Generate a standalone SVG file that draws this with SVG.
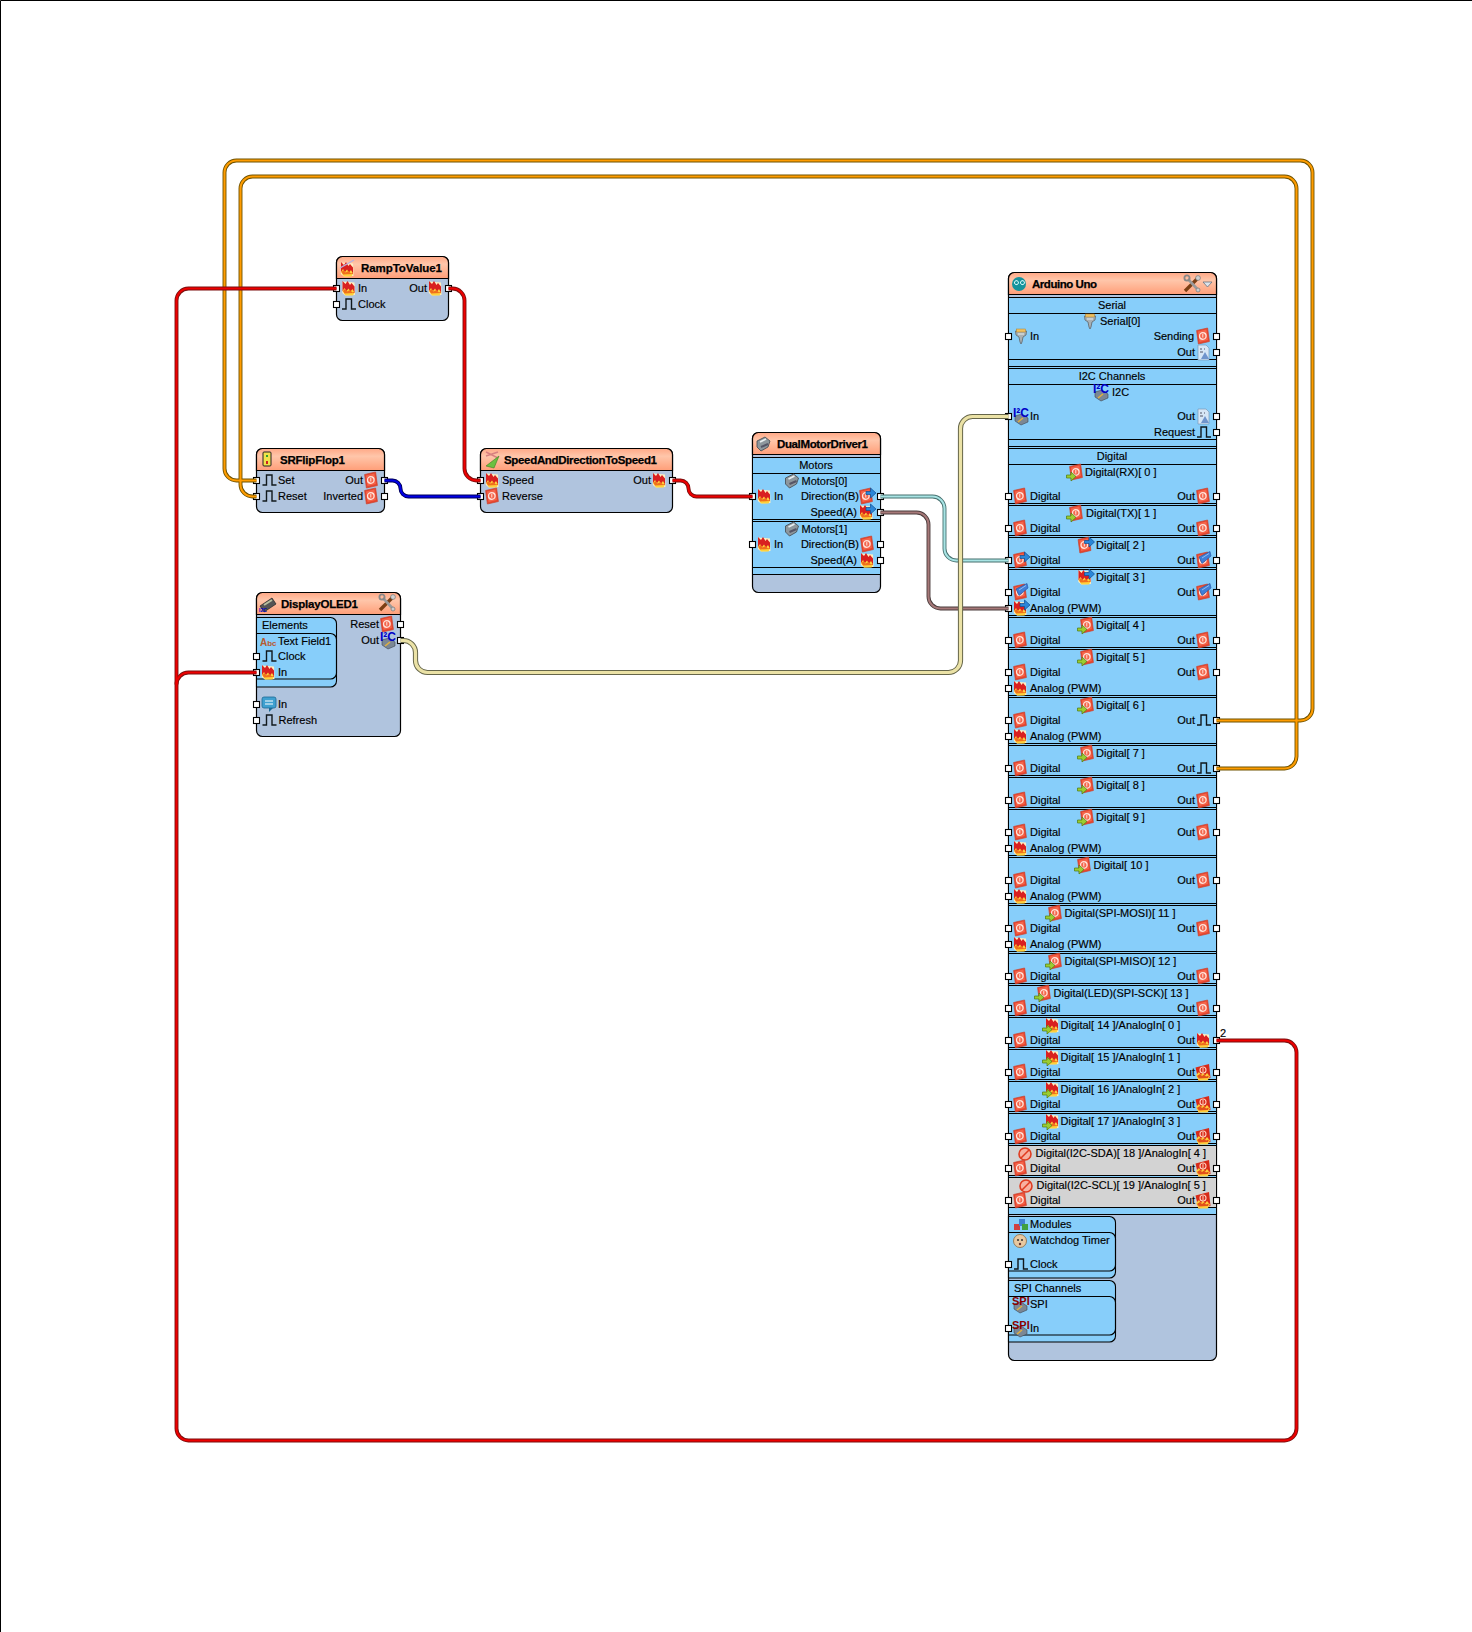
<svg xmlns="http://www.w3.org/2000/svg" width="1472" height="1632" viewBox="0 0 1472 1632">
<style>
text{font-family:"Liberation Sans",Arial,sans-serif;font-size:11px;fill:#000;stroke:#000;stroke-width:.16}
.h{font-weight:bold;font-size:11.5px;stroke-width:.25}
.c{text-anchor:middle}
.e{text-anchor:end}
.n{fill:#b0c4de;stroke:#000;stroke-width:1.2}
.b{fill:#87cefa;stroke:#000;stroke-width:1.1}
.g{fill:#d3d3d3}
.s{fill:#87cefa}
.l{fill:none;stroke:#000;stroke-width:1.1}
.hd{fill:url(#hg);stroke:#000;stroke-width:1.2}
.w{fill:none;stroke-linejoin:round}
.o1{stroke:#6e5200;stroke-width:3.9}.o2{stroke:#ff9c00;stroke-width:2.1}
.r1{stroke:#7c0f0f;stroke-width:3.9}.r2{stroke:#ee0000;stroke-width:2.1}
.u1{stroke:#00005a;stroke-width:3.9}.u2{stroke:#0000e6;stroke-width:2.1}
.t1{stroke:#47706f;stroke-width:3.9}.t2{stroke:#a8e4e4;stroke-width:2.1}
.m1{stroke:#4a3c3c;stroke-width:3.9}.m2{stroke:#a67878;stroke-width:2.1}
.y1{stroke:#66664a;stroke-width:5.2}.y2{stroke:#ebe2a6;stroke-width:3.2}
.ic{stroke:none;font-weight:bold}
</style>
<defs>
<linearGradient id="hg" x1="0" y1="0" x2="0" y2="1"><stop offset="0" stop-color="#ffa886"/><stop offset=".35" stop-color="#ffc6aa"/><stop offset="1" stop-color="#ff9e78"/></linearGradient>
<rect id="p" x="-3" y="-3" width="6" height="6" fill="#fff" stroke="#000" stroke-width="1.1"/>
<g id="d"><path d="M-6.4-5.5L4.6-8 6.4 5.5 -4.6 8Z" fill="#e8452e" stroke="#c9442f" stroke-width=".7"/><path d="M-5-4.6L3.4-6.4 4.8 4-3.4 6Z" fill="#f4664c"/><circle cx="-.2" cy="0" r="3.3" fill="none" stroke="#ffe4dc" stroke-width="1.3"/><path d="M-.2-2.2V1.5" stroke="#ffe4dc" stroke-width="1"/></g>
<g id="f"><path d="M-6-6.500L6-5.500 6.500 7-3 7.500-6.200 5Z" fill="#ffefc0"/><path d="M-6-1L-6-7-3-4-1-7 1.500-3 3-5 6-1.500 6 4.500-6 3Z" fill="#d92020"/><path d="M-6 3L-4 0-2 3 0 .5 2 3.500 4 1 6 4.500 4.500 7.500-3 7.500Z" fill="#ffd23c"/><path d="M-5.500 3L-3.500 1-1.500 3.500 1.500 2 4 4.500 6 3.500 6 5-4 5.500Z" fill="#f0701c"/></g>
<path id="k" d="M-7 5H-3V-5H2.500V5H7" fill="none" stroke="#10181c" stroke-width="1.4"/>
<path id="ag" d="M-5-2H-.5V-5L4.500-.5-.5 4V1H-5Z" fill="#9acd32" stroke="#4e7a10" stroke-width=".7"/>
<path id="ab" d="M-5-1.500H-.5V-5L5 0-.5 5V1.500H-5Z" fill="#2a86d8" stroke="#0f4c90" stroke-width=".7"/>
<g id="dg"><use href="#d"/><use href="#ag" x="-4.500" y="5"/></g>
<g id="fg"><use href="#f"/><use href="#ag" x="-4.500" y="5"/></g>
<g id="db"><use href="#d"/><use href="#ab" x="5" y="-3"/></g>
<g id="fb"><use href="#f"/><use href="#ab" x="5" y="-3"/></g>
<g id="dc"><use href="#d"/><path d="M-4-3L7-8.500 8-4-1 3.500Z" fill="#3f7fd8" stroke="#1d4fa0" stroke-width=".6"/><path d="M-1-2L6-6.500" stroke="#a8ccf5" stroke-width=".8"/></g>
<g id="df"><path d="M-7.500-4.500L6-8 7.500 6-4.500 8.500Z" fill="#d82a18"/><path d="M-7 3L-4 0-2 3 0 .5 2 3.500 4 1 7 4.500 4.500 8.500-4.500 8.500Z" fill="#ffcc3a"/><path d="M-6 4L-3 2-1 4 1 2.500 3 4.500 6 3.500 5 6-4 6.500Z" fill="#e2501a"/><circle cx="0" cy="-2" r="3" fill="none" stroke="#ffd0c0" stroke-width="1.1"/><path d="M0-4V0" stroke="#ffd0c0"/></g>
<g id="x"><path d="M-5-7H3L6-4V8H-5Z" fill="#d6e6f6" stroke="#7a9ab8" stroke-width=".7"/><path d="M-3-3H-1M1-3H2M-3 0H0" stroke="#445" stroke-width=".9"/><path d="M-2 7L2 0 6 7Z" fill="#6f94cc"/></g>
<g id="sr"><path d="M-5.500-5H5.500L5-1 2 1 1 6 0 8-1 6-2 1-5-1Z" fill="#a8b0b4" stroke="#5e6468" stroke-width=".8"/><rect x="-4.500" y="-7" width="9" height="3" fill="#f0c060" stroke="#a88030" stroke-width=".5"/><path d="M-3-2H3" stroke="#e8ecec"/></g>
<g id="i2"><path d="M-6 0L1-2 7 2 7 6 0 9-6 5Z" fill="#7b8794" stroke="#3c4650" stroke-width=".6"/><path d="M-3 6L2 2" stroke="#e0b040" stroke-width="1.6"/><text class="ic" x="-8" y="1" style="font-size:12px;fill:#0000c8">I²C</text></g>
<g id="sp"><path d="M-6 0L1-2 7 2 7 6 0 9-6 5Z" fill="#7b8794" stroke="#3c4650" stroke-width=".6"/><path d="M-3 6L2 2" stroke="#e0b040" stroke-width="1.6"/><text class="ic" x="-8" y="1" style="font-size:11px;fill:#8b0000">SPI</text></g>
<g id="nn"><circle r="6" fill="#f7b0a0" stroke="#e03c20" stroke-width="1.6"/><path d="M-4 4L4-4" stroke="#e03c20" stroke-width="1.6"/></g>
<g id="mt"><path d="M-6-3L2-7 7-3 5 3-2 7-6 3Z" fill="#8d979d" stroke="#40484e" stroke-width=".8"/><path d="M-3-2L3-5" stroke="#e8eef0" stroke-width="1.6"/><path d="M-2 3L5 0" stroke="#556" stroke-width="2"/></g>
<g id="tl"><path d="M-7 7L5-5" stroke="#7c3f14" stroke-width="3.4"/><path d="M7 7L-4-5" stroke="#9a9a9a" stroke-width="2.6"/><circle cx="-5" cy="-6" r="2.600" fill="none" stroke="#888" stroke-width="1.800"/><circle cx="6" cy="-6" r="2.400" fill="#d0d0d0" stroke="#777" stroke-width=".7"/><circle cx="6" cy="6" r="2" fill="#ccc" stroke="#777" stroke-width=".7"/></g>
</defs>
<rect width="1472" height="1632" fill="#fff"/>
<path d="M.5 1632V.5H1472" fill="none" stroke="#000"/>

<g id="RampToValue1">
<rect class="n" x="336.5" y="256.5" width="112" height="64" rx="6"/>
<path class="hd" d="M336.5 278.5V262.5a6 6 0 0 1 6-6H442.5a6 6 0 0 1 6 6V278.5Z"/>
<use href="#f" x="347" y="269"/><path d="M340 268L354 260" stroke="#b8b0e0" stroke-width="1.4"/>
<text class="h" x="361" y="272" textLength="81">RampToValue1</text>
<use href="#p" x="336.5" y="288.5"/><use href="#p" x="336.5" y="304.5"/><use href="#p" x="448.5" y="288.5"/>
<use href="#f" x="348.5" y="288"/><use href="#k" x="349" y="304"/><use href="#f" x="435" y="288"/>
<text x="358" y="292">In</text><text x="358" y="308">Clock</text><text class="e" x="427" y="292">Out</text>
</g>

<g id="SRFlipFlop1">
<rect class="n" x="256.5" y="448.5" width="128" height="64" rx="6"/>
<path class="hd" d="M256.5 470.5V454.5a6 6 0 0 1 6-6H378.5a6 6 0 0 1 6 6V470.5Z"/>
<rect x="263" y="452" width="8" height="14" rx="1" fill="#f2e24a" stroke="#222" stroke-width="1"/><rect x="266" y="461" width="2" height="3" fill="#d02020"/><rect x="266" y="455" width="2" height="2" fill="#30a030"/>
<text class="h" x="280" y="464" textLength="65">SRFlipFlop1</text>
<use href="#p" x="256.5" y="480.5"/><use href="#p" x="256.5" y="496.5"/><use href="#p" x="384.5" y="480.5"/><use href="#p" x="384.5" y="496.5"/>
<use href="#k" x="269.5" y="480"/><use href="#k" x="269.5" y="496"/><use href="#d" x="371" y="480"/><use href="#d" x="371" y="496"/>
<text x="278" y="484">Set</text><text x="278" y="500">Reset</text><text class="e" x="363" y="484">Out</text><text class="e" x="363" y="500">Inverted</text>
</g>

<g id="SpeedAndDirectionToSpeed1">
<rect class="n" x="480.5" y="448.5" width="192" height="64" rx="6"/>
<path class="hd" d="M480.5 470.5V454.5a6 6 0 0 1 6-6H666.5a6 6 0 0 1 6 6V470.5Z"/>
<path d="M486 456L498 452M486 452L498 458" stroke="#d88080" stroke-width="1.4"/><path d="M486 466L499 456 494 468Z" fill="#6cc040" stroke="#3c8020" stroke-width=".6"/>
<text class="h" x="504" y="464" textLength="153">SpeedAndDirectionToSpeed1</text>
<use href="#p" x="480.5" y="480.5"/><use href="#p" x="480.5" y="496.5"/><use href="#p" x="672.5" y="480.5"/>
<use href="#f" x="492" y="480"/><use href="#d" x="492" y="496"/><use href="#f" x="659" y="480"/>
<text x="502" y="484">Speed</text><text x="502" y="500">Reverse</text><text class="e" x="651" y="484">Out</text>
</g>

<g id="DisplayOLED1">
<rect class="n" x="256.5" y="592.5" width="144" height="144" rx="6"/>
<path class="hd" d="M256.5 614.5V598.5a6 6 0 0 1 6-6H394.5a6 6 0 0 1 6 6V614.5Z"/>
<path d="M260 606L272 598 276 604 264 612Z" fill="#555" stroke="#222" stroke-width=".7"/><path d="M264 605L272 600" stroke="#b8c0a0" stroke-width="2"/>
<text class="ic" x="259" y="612" style="font-size:5px;fill:#0000c8">I2C</text>
<text class="h" x="281" y="608" textLength="77">DisplayOLED1</text>
<use href="#tl" x="387" y="603"/>
<path class="b" d="M256.5 617.5H330.5a6 6 0 0 1 6 6V681a6 6 0 0 1-6 6H256.5Z"/>
<path class="l" d="M256.5 633.5H330.5a6 6 0 0 1 6 6V673a6 6 0 0 1-6 6H256.5"/>
<use href="#p" x="256.5" y="656.5"/><use href="#p" x="256.5" y="672.5"/><use href="#p" x="256.5" y="704.5"/><use href="#p" x="256.5" y="720.5"/><use href="#p" x="400.5" y="624.5"/><use href="#p" x="400.5" y="640.5"/>
<text x="262" y="629">Elements</text>
<text class="ic" x="260" y="646" style="font-size:10px;fill:#b85a30">A<tspan style="font-size:8px;fill:#b85a30">bc</tspan></text>
<text x="278" y="645">Text Field1</text>
<use href="#k" x="269.5" y="656"/><text x="278" y="660">Clock</text>
<use href="#f" x="268" y="672"/><text x="278" y="676">In</text>
<rect x="262" y="697" width="14" height="11" rx="2" fill="#3fa0d0" stroke="#1c6a96" stroke-width=".8"/><path d="M269 708V712L273 708Z" fill="#1c6a96"/><path d="M265 701H273M265 704H273" stroke="#fff" stroke-width="1"/>
<text x="278" y="708">In</text>
<use href="#k" x="269.5" y="720"/><text x="278.5" y="724">Refresh</text>
<text class="e" x="379" y="628">Reset</text><use href="#d" x="387" y="624"/>
<text class="e" x="379" y="644">Out</text><use href="#i2" x="388" y="640"/>
</g>

<g id="DualMotorDriver1">
<rect class="n" x="752.5" y="432.5" width="128" height="160" rx="6"/>
<rect class="s" x="753" y="457" width="127" height="117"/>
<path class="hd" d="M752.5 454.5V438.5a6 6 0 0 1 6-6H874.5a6 6 0 0 1 6 6V454.5Z"/>
<path class="l" d="M752.5 457.5H880.5M752.5 473.5H880.5M752.5 519.5H880.5M752.5 521.5H880.5M752.5 567.5H880.5M752.5 574.5H880.5"/>
<use href="#mt" x="763" y="444"/>
<text class="h" x="777" y="448" textLength="91">DualMotorDriver1</text>
<text class="c" x="816" y="469">Motors</text>
<use href="#mt" x="791.5" y="481"/><text x="801.5" y="485">Motors[0]</text>
<use href="#mt" x="791.5" y="529"/><text x="801.5" y="533">Motors[1]</text>
<use href="#p" x="752.5" y="496.5"/><use href="#p" x="752.5" y="544.5"/><use href="#p" x="880.5" y="496.5"/><use href="#p" x="880.5" y="512.5"/><use href="#p" x="880.5" y="544.5"/><use href="#p" x="880.5" y="560.5"/>
<use href="#f" x="764" y="496"/><text x="774" y="500">In</text>
<use href="#f" x="764" y="544"/><text x="774" y="548">In</text>
<text class="e" x="859" y="500">Direction(B)</text><use href="#db" x="866" y="496"/>
<text class="e" x="857" y="516">Speed(A)</text><use href="#fb" x="866" y="512"/>
<text class="e" x="859" y="548">Direction(B)</text><use href="#d" x="867" y="544"/>
<text class="e" x="857" y="564">Speed(A)</text><use href="#f" x="867" y="560"/>
</g>

<g id="ArduinoUno">
<rect class="n" x="1008.5" y="272.5" width="208" height="1088" rx="6"/>
<rect class="s" x="1009" y="297" width="207" height="918"/>
<rect class="g" x="1009" y="1146" width="207" height="29"/><rect class="g" x="1009" y="1178" width="207" height="29"/>
<path class="hd" d="M1008.5 294.5V278.5a6 6 0 0 1 6-6H1210.5a6 6 0 0 1 6 6V294.5Z"/>
<circle cx="1019" cy="284" r="7" fill="#16939c"/><path d="M1015 284a2 2 0 1 1 .1 .1ZM1021 284a2 2 0 1 1 .1 .1Z" fill="none" stroke="#dff" stroke-width="1"/>
<text class="h" x="1032" y="288" textLength="65">Arduino Uno</text>
<use href="#tl" x="1192" y="284"/><path d="M1203 282H1212L1207.500 287Z" fill="#dce4ec" stroke="#6a7480" stroke-width=".8"/>
<path class="l" d="M1008.5 297.500H1216.500M1008.500 313.500H1216.500M1008.500 359.500H1216.500M1008.500 366.500H1216.500M1008.500 368.500H1216.500M1008.500 384.500H1216.500M1008.500 439.500H1216.500M1008.500 446.500H1216.500M1008.500 448.500H1216.500M1008.500 464.500H1216.500M1008.500 503.500H1216.500M1008.500 505.500H1216.500M1008.500 535.500H1216.500M1008.500 537.500H1216.500M1008.500 567.500H1216.500M1008.500 569.500H1216.500M1008.500 615.500H1216.500M1008.500 617.500H1216.500M1008.500 647.500H1216.500M1008.500 649.500H1216.500M1008.500 695.500H1216.500M1008.500 697.500H1216.500M1008.500 743.500H1216.500M1008.500 745.500H1216.500M1008.500 775.500H1216.500M1008.500 777.500H1216.500M1008.500 807.500H1216.500M1008.500 809.500H1216.500M1008.500 855.500H1216.500M1008.500 857.500H1216.500M1008.500 903.500H1216.500M1008.500 905.500H1216.500M1008.500 951.500H1216.500M1008.500 953.500H1216.500M1008.500 983.500H1216.500M1008.500 985.500H1216.500M1008.500 1015.500H1216.500M1008.500 1017.500H1216.500M1008.500 1047.500H1216.500M1008.500 1049.500H1216.500M1008.500 1079.500H1216.500M1008.500 1081.500H1216.500M1008.500 1111.500H1216.500M1008.500 1113.500H1216.500M1008.500 1143.500H1216.500M1008.500 1145.500H1216.500M1008.500 1175.500H1216.500M1008.500 1177.500H1216.500M1008.500 1207.500H1216.500M1008.500 1214.500H1216.500"/>
<path class="b" d="M1008.5 1216.500H1109.500a6 6 0 0 1 6 6V1272a6 6 0 0 1-6 6H1008.500Z"/>
<path class="l" d="M1008.500 1232.500H1109.500a6 6 0 0 1 6 6V1265a6 6 0 0 1-6 6H1008.500"/>
<path class="b" d="M1008.500 1280.500H1109.500a6 6 0 0 1 6 6V1336a6 6 0 0 1-6 6H1008.500Z"/>
<path class="l" d="M1008.500 1296.500H1109.500a6 6 0 0 1 6 6V1329a6 6 0 0 1-6 6H1008.500"/>
<use href="#p" x="1008.500" y="336.500"/><use href="#p" x="1008.500" y="416.500"/><use href="#p" x="1008.500" y="496.500"/><use href="#p" x="1008.500" y="528.500"/><use href="#p" x="1008.500" y="560.500"/><use href="#p" x="1008.500" y="592.500"/><use href="#p" x="1008.500" y="608.500"/><use href="#p" x="1008.500" y="640.500"/><use href="#p" x="1008.500" y="672.500"/><use href="#p" x="1008.500" y="688.500"/><use href="#p" x="1008.500" y="720.500"/><use href="#p" x="1008.500" y="736.500"/><use href="#p" x="1008.500" y="768.500"/><use href="#p" x="1008.500" y="800.500"/><use href="#p" x="1008.500" y="832.500"/><use href="#p" x="1008.500" y="848.500"/><use href="#p" x="1008.500" y="880.500"/><use href="#p" x="1008.500" y="896.500"/><use href="#p" x="1008.500" y="928.500"/><use href="#p" x="1008.500" y="944.500"/><use href="#p" x="1008.500" y="976.500"/><use href="#p" x="1008.500" y="1008.500"/><use href="#p" x="1008.500" y="1040.500"/><use href="#p" x="1008.500" y="1072.500"/><use href="#p" x="1008.500" y="1104.500"/><use href="#p" x="1008.500" y="1136.500"/><use href="#p" x="1008.500" y="1168.500"/><use href="#p" x="1008.500" y="1200.500"/><use href="#p" x="1008.500" y="1264.500"/><use href="#p" x="1008.500" y="1328.500"/>
<use href="#p" x="1216.500" y="336.500"/><use href="#p" x="1216.500" y="352.500"/><use href="#p" x="1216.500" y="416.500"/><use href="#p" x="1216.500" y="432.500"/><use href="#p" x="1216.500" y="496.500"/><use href="#p" x="1216.500" y="528.500"/><use href="#p" x="1216.500" y="560.500"/><use href="#p" x="1216.500" y="592.500"/><use href="#p" x="1216.500" y="640.500"/><use href="#p" x="1216.500" y="672.500"/><use href="#p" x="1216.500" y="720.500"/><use href="#p" x="1216.500" y="768.500"/><use href="#p" x="1216.500" y="800.500"/><use href="#p" x="1216.500" y="832.500"/><use href="#p" x="1216.500" y="880.500"/><use href="#p" x="1216.500" y="928.500"/><use href="#p" x="1216.500" y="976.500"/><use href="#p" x="1216.500" y="1008.500"/><use href="#p" x="1216.500" y="1040.500"/><use href="#p" x="1216.500" y="1072.500"/><use href="#p" x="1216.500" y="1104.500"/><use href="#p" x="1216.500" y="1136.500"/><use href="#p" x="1216.500" y="1168.500"/><use href="#p" x="1216.500" y="1200.500"/>

<text class="c" x="1112" y="309">Serial</text>
<use href="#sr" x="1090" y="321"/><text x="1100" y="325">Serial[0]</text>
<use href="#sr" x="1021" y="336"/><text x="1030" y="340">In</text>
<text class="e" x="1194" y="340">Sending</text><use href="#d" x="1203" y="336"/>
<text class="e" x="1195" y="356">Out</text><use href="#x" x="1203" y="352"/>
<text class="c" x="1112" y="380">I2C Channels</text>
<use href="#i2" x="1101" y="392"/><text x="1112" y="396">I2C</text>
<use href="#i2" x="1021" y="416"/><text x="1030" y="420">In</text>
<text class="e" x="1195" y="420">Out</text><use href="#x" x="1203" y="416"/>
<text class="e" x="1195" y="436">Request</text><use href="#k" x="1204" y="432"/>
<text class="c" x="1112" y="460">Digital</text>

<use href="#dg" x="1076" y="472"/><text x="1085" y="476">Digital(RX)[ 0 ]</text>
<use href="#d" x="1020" y="496"/><text x="1030" y="500">Digital</text><text class="e" x="1195" y="500">Out</text><use href="#d" x="1203" y="496"/>
<use href="#dg" x="1076" y="513"/><text x="1086" y="517">Digital(TX)[ 1 ]</text>
<use href="#d" x="1020" y="528"/><text x="1030" y="532">Digital</text><text class="e" x="1195" y="532">Out</text><use href="#d" x="1203" y="528"/>
<use href="#db" x="1084.500" y="545"/><text x="1096" y="549">Digital[ 2 ]</text>
<use href="#db" x="1020" y="560"/><text x="1030" y="564">Digital</text><text class="e" x="1195" y="564">Out</text><use href="#dc" x="1203" y="560"/>
<use href="#fb" x="1084.500" y="577"/><text x="1096" y="581">Digital[ 3 ]</text>
<use href="#dc" x="1020" y="592"/><text x="1030" y="596">Digital</text><text class="e" x="1195" y="596">Out</text><use href="#dc" x="1203" y="592"/>
<use href="#fb" x="1020" y="608"/><text x="1030" y="612">Analog (PWM)</text>
<use href="#dg" x="1087" y="625"/><text x="1096" y="629">Digital[ 4 ]</text>
<use href="#d" x="1020" y="640"/><text x="1030" y="644">Digital</text><text class="e" x="1195" y="644">Out</text><use href="#d" x="1203" y="640"/>
<use href="#dg" x="1087" y="657"/><text x="1096" y="661">Digital[ 5 ]</text>
<use href="#d" x="1020" y="672"/><text x="1030" y="676">Digital</text><text class="e" x="1195" y="676">Out</text><use href="#d" x="1203" y="672"/>
<use href="#f" x="1020" y="688"/><text x="1030" y="692">Analog (PWM)</text>
<use href="#dg" x="1087" y="705"/><text x="1096" y="709">Digital[ 6 ]</text>
<use href="#d" x="1020" y="720"/><text x="1030" y="724">Digital</text><text class="e" x="1195" y="724">Out</text><use href="#k" x="1204" y="720"/>
<use href="#f" x="1020" y="736"/><text x="1030" y="740">Analog (PWM)</text>
<use href="#dg" x="1087" y="753"/><text x="1096" y="757">Digital[ 7 ]</text>
<use href="#d" x="1020" y="768"/><text x="1030" y="772">Digital</text><text class="e" x="1195" y="772">Out</text><use href="#k" x="1204" y="768"/>
<use href="#dg" x="1087" y="785"/><text x="1096" y="789">Digital[ 8 ]</text>
<use href="#d" x="1020" y="800"/><text x="1030" y="804">Digital</text><text class="e" x="1195" y="804">Out</text><use href="#d" x="1203" y="800"/>
<use href="#dg" x="1087" y="817"/><text x="1096" y="821">Digital[ 9 ]</text>
<use href="#d" x="1020" y="832"/><text x="1030" y="836">Digital</text><text class="e" x="1195" y="836">Out</text><use href="#d" x="1203" y="832"/>
<use href="#f" x="1020" y="848"/><text x="1030" y="852">Analog (PWM)</text>
<use href="#dg" x="1084" y="865"/><text x="1093.500" y="869">Digital[ 10 ]</text>
<use href="#d" x="1020" y="880"/><text x="1030" y="884">Digital</text><text class="e" x="1195" y="884">Out</text><use href="#d" x="1203" y="880"/>
<use href="#f" x="1020" y="896"/><text x="1030" y="900">Analog (PWM)</text>
<use href="#dg" x="1055" y="913"/><text x="1064.500" y="917">Digital(SPI-MOSI)[ 11 ]</text>
<use href="#d" x="1020" y="928"/><text x="1030" y="932">Digital</text><text class="e" x="1195" y="932">Out</text><use href="#d" x="1203" y="928"/>
<use href="#f" x="1020" y="944"/><text x="1030" y="948">Analog (PWM)</text>
<use href="#dg" x="1055" y="961"/><text x="1064.500" y="965">Digital(SPI-MISO)[ 12 ]</text>
<use href="#d" x="1020" y="976"/><text x="1030" y="980">Digital</text><text class="e" x="1195" y="980">Out</text><use href="#d" x="1203" y="976"/>
<use href="#dg" x="1044" y="993"/><text x="1053.500" y="997">Digital(LED)(SPI-SCK)[ 13 ]</text>
<use href="#d" x="1020" y="1008"/><text x="1030" y="1012">Digital</text><text class="e" x="1195" y="1012">Out</text><use href="#d" x="1203" y="1008"/>
<use href="#fg" x="1052" y="1025"/><text x="1060.500" y="1029">Digital[ 14 ]/AnalogIn[ 0 ]</text>
<use href="#d" x="1020" y="1040"/><text x="1030" y="1044">Digital</text><text class="e" x="1195" y="1044">Out</text><use href="#f" x="1203" y="1040"/>
<text x="1220" y="1037">2</text>
<use href="#fg" x="1052" y="1057"/><text x="1060.500" y="1061">Digital[ 15 ]/AnalogIn[ 1 ]</text>
<use href="#d" x="1020" y="1072"/><text x="1030" y="1076">Digital</text><text class="e" x="1195" y="1076">Out</text><use href="#df" x="1203" y="1072"/>
<use href="#fg" x="1052" y="1089"/><text x="1060.500" y="1093">Digital[ 16 ]/AnalogIn[ 2 ]</text>
<use href="#d" x="1020" y="1104"/><text x="1030" y="1108">Digital</text><text class="e" x="1195" y="1108">Out</text><use href="#df" x="1203" y="1104"/>
<use href="#fg" x="1052" y="1121"/><text x="1060.500" y="1125">Digital[ 17 ]/AnalogIn[ 3 ]</text>
<use href="#d" x="1020" y="1136"/><text x="1030" y="1140">Digital</text><text class="e" x="1195" y="1140">Out</text><use href="#df" x="1203" y="1136"/>
<use href="#nn" x="1025" y="1154"/><text x="1035.500" y="1157">Digital(I2C-SDA)[ 18 ]/AnalogIn[ 4 ]</text>
<use href="#d" x="1020" y="1168"/><text x="1030" y="1172">Digital</text><text class="e" x="1195" y="1172">Out</text><use href="#df" x="1203" y="1168"/>
<use href="#nn" x="1026" y="1186"/><text x="1036.500" y="1189">Digital(I2C-SCL)[ 19 ]/AnalogIn[ 5 ]</text>
<use href="#d" x="1020" y="1200"/><text x="1030" y="1204">Digital</text><text class="e" x="1195" y="1204">Out</text><use href="#df" x="1203" y="1200"/>

<rect x="1014" y="1224" width="6" height="6" fill="#d04040"/><rect x="1019" y="1219" width="6" height="7" fill="#4080d0"/><rect x="1022" y="1224" width="6" height="6" fill="#40a040"/>
<text x="1030" y="1228">Modules</text>
<circle cx="1020" cy="1241" r="6.500" fill="#e8c8a0" stroke="#8a6a40" stroke-width=".8"/><circle cx="1018" cy="1240" r="1" fill="#333"/><circle cx="1022" cy="1240" r="1" fill="#333"/><circle cx="1020" cy="1244" r="1.200" fill="#633"/>
<text x="1030" y="1244">Watchdog Timer</text>
<use href="#k" x="1021" y="1264"/><text x="1030" y="1268">Clock</text>
<text x="1014" y="1292">SPI Channels</text>
<use href="#sp" x="1020" y="1304"/><text x="1030" y="1308">SPI</text>
<use href="#sp" x="1020" y="1328"/><text x="1030" y="1332">In</text>
</g>

<g id="connectors">
<g class="w o1"><path d="M1216.500 720.500H1300.500a12 12 0 0 0 12-12V172.500a12 12 0 0 0-12-12H236.500a12 12 0 0 0-12 12V468.500a12 12 0 0 0 12 12H256.500"/><path d="M1216.500 768.500H1284.500a12 12 0 0 0 12-12V188.500a12 12 0 0 0-12-12H252.500a12 12 0 0 0-12 12V484.500a12 12 0 0 0 12 12H256.500"/></g>
<g class="w o2"><path d="M1216.500 720.500H1300.500a12 12 0 0 0 12-12V172.500a12 12 0 0 0-12-12H236.500a12 12 0 0 0-12 12V468.500a12 12 0 0 0 12 12H256.500"/><path d="M1216.500 768.500H1284.500a12 12 0 0 0 12-12V188.500a12 12 0 0 0-12-12H252.500a12 12 0 0 0-12 12V484.500a12 12 0 0 0 12 12H256.500"/></g>
<g class="w r1"><path d="M1216.500 1040.500H1284.500a12 12 0 0 1 12 12V1428.500a12 12 0 0 1-12 12H188.500a12 12 0 0 1-12-12V300.500a12 12 0 0 1 12-12H336.500"/><path d="M176.500 684.500a12 12 0 0 1 12-12H256.500"/><path d="M448.500 288.500H452.500a12 12 0 0 1 12 12V468.500a12 12 0 0 0 12 12H480.500"/><path d="M672.500 480.500H680.500a8 8 0 0 1 8 8a8 8 0 0 0 8 8H752.500"/></g>
<g class="w r2"><path d="M1216.500 1040.500H1284.500a12 12 0 0 1 12 12V1428.500a12 12 0 0 1-12 12H188.500a12 12 0 0 1-12-12V300.500a12 12 0 0 1 12-12H336.500"/><path d="M176.500 684.500a12 12 0 0 1 12-12H256.500"/><path d="M448.500 288.500H452.500a12 12 0 0 1 12 12V468.500a12 12 0 0 0 12 12H480.500"/><path d="M672.500 480.500H680.500a8 8 0 0 1 8 8a8 8 0 0 0 8 8H752.500"/></g>
<path class="w u1" d="M384.500 480.500H392.500a8 8 0 0 1 8 8a8 8 0 0 0 8 8H480.500"/>
<path class="w u2" d="M384.500 480.500H392.500a8 8 0 0 1 8 8a8 8 0 0 0 8 8H480.500"/>
<path class="w t1" d="M880.500 496.500H932.500a12 12 0 0 1 12 12V548.500a12 12 0 0 0 12 12H1008.500"/>
<path class="w t2" d="M880.500 496.500H932.500a12 12 0 0 1 12 12V548.500a12 12 0 0 0 12 12H1008.500"/>
<path class="w m1" d="M880.500 512.500H916.500a12 12 0 0 1 12 12V596.500a12 12 0 0 0 12 12H1008.500"/>
<path class="w m2" d="M880.500 512.500H916.500a12 12 0 0 1 12 12V596.500a12 12 0 0 0 12 12H1008.500"/>
<path class="w y1" d="M400.500 640.500H403.500a12 12 0 0 1 12 12V660.500a12 12 0 0 0 12 12H948.500a12 12 0 0 0 12-12V428.500a12 12 0 0 1 12-12H1008.500"/>
<path class="w y2" d="M400.500 640.500H403.500a12 12 0 0 1 12 12V660.500a12 12 0 0 0 12 12H948.500a12 12 0 0 0 12-12V428.500a12 12 0 0 1 12-12H1008.500"/>
</g>
</svg>
